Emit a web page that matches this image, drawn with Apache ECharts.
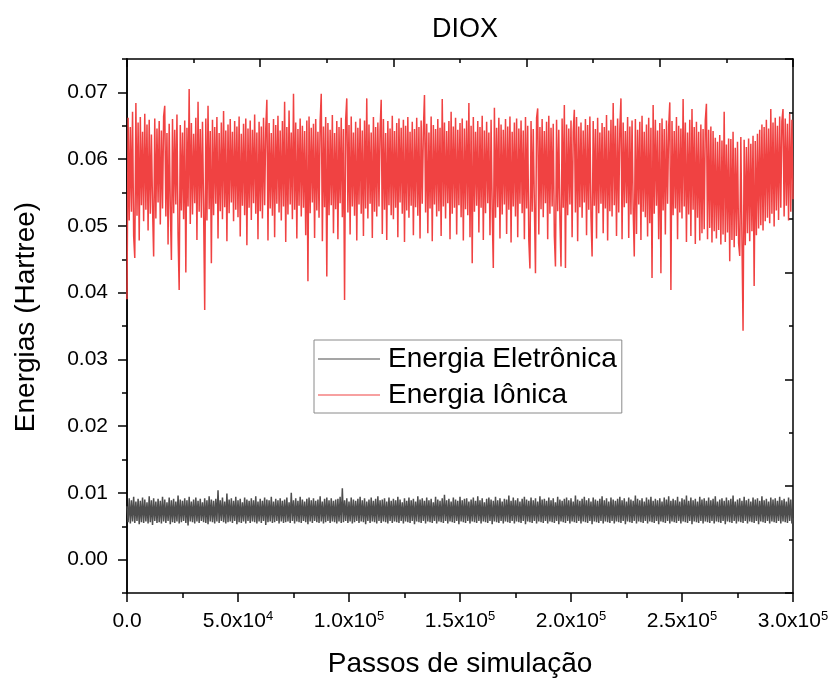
<!DOCTYPE html>
<html>
<head>
<meta charset="utf-8">
<script src="https://cdn.jsdelivr.net/npm/echarts@6/dist/echarts.min.js"></script>
<style>
  html, body { margin: 0; padding: 0; background: #fff; }
  #box1 { width: 834px; height: 679px; }
</style>
</head>
<body>
<div id="box1"></div>
<script>
// samples taken every STEP simulation steps
var STEP = 500;

var seriesNames = ['Energia Eletrônica', 'Energia Iônica'];

// Energia Eletrônica (Hartree)
var eletronica = [
  0.0080, 0.0056, 0.0092, 0.0054, 0.0089, 0.0057, 0.0094, 0.0055, 0.0087, 0.0058,
  0.0091, 0.0053, 0.0088, 0.0056, 0.0093, 0.0055, 0.0090, 0.0057, 0.0086, 0.0054,
  0.0095, 0.0056, 0.0089, 0.0052, 0.0092, 0.0058, 0.0087, 0.0055, 0.0091, 0.0056,
  0.0088, 0.0054, 0.0094, 0.0057, 0.0090, 0.0055, 0.0086, 0.0058, 0.0093, 0.0053,
  0.0089, 0.0056, 0.0091, 0.0055, 0.0087, 0.0057, 0.0096, 0.0054, 0.0090, 0.0056,
  0.0088, 0.0058, 0.0092, 0.0055, 0.0089, 0.0051, 0.0094, 0.0057, 0.0087, 0.0056,
  0.0090, 0.0054, 0.0093, 0.0057, 0.0088, 0.0055, 0.0091, 0.0058, 0.0086, 0.0056,
  0.0092, 0.0055, 0.0089, 0.0053, 0.0095, 0.0057, 0.0090, 0.0056, 0.0088, 0.0054,
  0.0091, 0.0057, 0.0104, 0.0055, 0.0089, 0.0058, 0.0093, 0.0056, 0.0087, 0.0054,
  0.0099, 0.0056, 0.0090, 0.0057, 0.0092, 0.0055, 0.0088, 0.0058, 0.0094, 0.0053,
  0.0089, 0.0056, 0.0091, 0.0055, 0.0086, 0.0057, 0.0093, 0.0054, 0.0090, 0.0058,
  0.0088, 0.0055, 0.0092, 0.0057, 0.0089, 0.0056, 0.0095, 0.0054, 0.0087, 0.0057,
  0.0091, 0.0055, 0.0088, 0.0058, 0.0093, 0.0052, 0.0090, 0.0056, 0.0089, 0.0057,
  0.0094, 0.0055, 0.0087, 0.0056, 0.0091, 0.0058, 0.0089, 0.0054, 0.0092, 0.0057,
  0.0088, 0.0055, 0.0090, 0.0056, 0.0093, 0.0057, 0.0086, 0.0055, 0.0100, 0.0058,
  0.0089, 0.0054, 0.0092, 0.0057, 0.0088, 0.0056, 0.0094, 0.0055, 0.0090, 0.0058,
  0.0087, 0.0056, 0.0091, 0.0053, 0.0093, 0.0057, 0.0089, 0.0055, 0.0092, 0.0058,
  0.0088, 0.0056, 0.0090, 0.0055, 0.0095, 0.0057, 0.0087, 0.0054, 0.0091, 0.0056,
  0.0093, 0.0058, 0.0089, 0.0055, 0.0092, 0.0057, 0.0088, 0.0056, 0.0090, 0.0054,
  0.0091, 0.0057, 0.0094, 0.0055, 0.0107, 0.0056, 0.0089, 0.0058, 0.0092, 0.0055,
  0.0087, 0.0057, 0.0093, 0.0054, 0.0090, 0.0056, 0.0088, 0.0058, 0.0091, 0.0055,
  0.0094, 0.0057, 0.0089, 0.0056, 0.0092, 0.0053, 0.0087, 0.0058, 0.0090, 0.0055,
  0.0093, 0.0057, 0.0088, 0.0056, 0.0091, 0.0054, 0.0095, 0.0058, 0.0089, 0.0055,
  0.0090, 0.0057, 0.0092, 0.0056, 0.0087, 0.0054, 0.0093, 0.0058, 0.0088, 0.0055,
  0.0091, 0.0057, 0.0089, 0.0056, 0.0094, 0.0055, 0.0090, 0.0058, 0.0086, 0.0054,
  0.0092, 0.0057, 0.0088, 0.0056, 0.0093, 0.0055, 0.0089, 0.0058, 0.0091, 0.0053,
  0.0087, 0.0057, 0.0095, 0.0056, 0.0090, 0.0055, 0.0092, 0.0058, 0.0088, 0.0054,
  0.0093, 0.0057, 0.0089, 0.0056, 0.0091, 0.0055, 0.0086, 0.0058, 0.0094, 0.0054,
  0.0090, 0.0057, 0.0088, 0.0056, 0.0092, 0.0055, 0.0097, 0.0058, 0.0089, 0.0054,
  0.0091, 0.0057, 0.0087, 0.0056, 0.0093, 0.0055, 0.0090, 0.0058, 0.0088, 0.0053,
  0.0094, 0.0057, 0.0089, 0.0056, 0.0091, 0.0055, 0.0092, 0.0058, 0.0087, 0.0054,
  0.0090, 0.0057, 0.0093, 0.0056, 0.0088, 0.0055, 0.0095, 0.0058, 0.0089, 0.0054,
  0.0092, 0.0057, 0.0086, 0.0056, 0.0091, 0.0055, 0.0093, 0.0058, 0.0090, 0.0053,
  0.0088, 0.0057, 0.0094, 0.0056, 0.0089, 0.0055, 0.0092, 0.0058, 0.0087, 0.0054,
  0.0091, 0.0057, 0.0090, 0.0056, 0.0096, 0.0055, 0.0088, 0.0058, 0.0093, 0.0054,
  0.0089, 0.0057, 0.0092, 0.0056, 0.0087, 0.0055, 0.0091, 0.0058, 0.0094, 0.0053,
  0.0090, 0.0057, 0.0088, 0.0056, 0.0093, 0.0055, 0.0089, 0.0058, 0.0092, 0.0054,
  0.0087, 0.0057, 0.0095, 0.0056, 0.0090, 0.0055, 0.0091, 0.0058, 0.0088, 0.0054,
  0.0093, 0.0057, 0.0089, 0.0056, 0.0092, 0.0055, 0.0086, 0.0058, 0.0094, 0.0053,
  0.0090, 0.0057, 0.0088, 0.0056, 0.0091, 0.0055, 0.0093, 0.0058, 0.0089, 0.0054,
  0.0092, 0.0057, 0.0087, 0.0056, 0.0096, 0.0055, 0.0090, 0.0058, 0.0088, 0.0054,
  0.0091, 0.0057, 0.0094, 0.0056, 0.0089, 0.0055, 0.0092, 0.0058, 0.0087, 0.0053,
  0.0093, 0.0057, 0.0090, 0.0056, 0.0088, 0.0055, 0.0091, 0.0058, 0.0095, 0.0054,
  0.0089, 0.0057, 0.0092, 0.0056, 0.0087, 0.0055, 0.0093, 0.0058, 0.0090, 0.0054,
  0.0088, 0.0057, 0.0091, 0.0056, 0.0094, 0.0055, 0.0089, 0.0058, 0.0092, 0.0053,
  0.0087, 0.0057, 0.0093, 0.0056, 0.0090, 0.0055, 0.0088, 0.0058, 0.0096, 0.0054,
  0.0091, 0.0057, 0.0089, 0.0056, 0.0092, 0.0055, 0.0087, 0.0058, 0.0093, 0.0054,
  0.0090, 0.0057, 0.0094, 0.0056, 0.0088, 0.0055, 0.0091, 0.0058, 0.0089, 0.0053,
  0.0092, 0.0057, 0.0087, 0.0056, 0.0093, 0.0055, 0.0090, 0.0058, 0.0095, 0.0054,
  0.0088, 0.0057, 0.0091, 0.0056, 0.0089, 0.0055, 0.0094, 0.0058, 0.0087, 0.0054,
  0.0092, 0.0057, 0.0090, 0.0056, 0.0096, 0.0055, 0.0088, 0.0058, 0.0093, 0.0053,
  0.0089, 0.0057, 0.0091, 0.0056, 0.0087, 0.0055, 0.0094, 0.0058, 0.0090, 0.0054,
  0.0092, 0.0057, 0.0088, 0.0056, 0.0093, 0.0055, 0.0089, 0.0058, 0.0091, 0.0054,
  0.0095, 0.0057, 0.0087, 0.0056, 0.0090, 0.0055, 0.0092, 0.0058, 0.0088, 0.0053,
  0.0093, 0.0057, 0.0089, 0.0056, 0.0091, 0.0055, 0.0096, 0.0058, 0.0087, 0.0054,
  0.0090, 0.0057, 0.0092, 0.0056, 0.0088, 0.0055, 0.0094, 0.0058, 0.0089, 0.0054,
  0.0091, 0.0057, 0.0087, 0.0056, 0.0093, 0.0055, 0.0090, 0.0058, 0.0092, 0.0053,
  0.0088, 0.0057, 0.0095, 0.0056, 0.0089, 0.0055, 0.0091, 0.0058, 0.0087, 0.0054,
  0.0093, 0.0057, 0.0090, 0.0056, 0.0092, 0.0055, 0.0088, 0.0058, 0.0094, 0.0054,
  0.0089, 0.0057, 0.0091, 0.0056, 0.0087, 0.0055, 0.0093, 0.0058, 0.0090, 0.0054,
  0.0062
];

// Energia Iônica (Hartree)
var ionica = [
  0.0390, 0.0662, 0.0508, 0.0648, 0.0521, 0.0671, 0.0485, 0.0452, 0.0684, 0.0515,
  0.0655, 0.0478, 0.0663, 0.0531, 0.0641, 0.0507, 0.0668, 0.0524, 0.0652, 0.0493,
  0.0659, 0.0518, 0.0637, 0.0529, 0.0454, 0.0661, 0.0511, 0.0646, 0.0535, 0.0657,
  0.0502, 0.0643, 0.0526, 0.0664, 0.0680, 0.0514, 0.0639, 0.0472, 0.0653, 0.0528,
  0.0449, 0.0660, 0.0519, 0.0644, 0.0532, 0.0667, 0.0486, 0.0404, 0.0651, 0.0523,
  0.0640, 0.0510, 0.0658, 0.0430, 0.0647, 0.0529, 0.0705, 0.0503, 0.0654, 0.0517,
  0.0638, 0.0534, 0.0662, 0.0479, 0.0686, 0.0521, 0.0645, 0.0512, 0.0656, 0.0527,
  0.0374, 0.0661, 0.0508, 0.0680, 0.0525, 0.0642, 0.0444, 0.0659, 0.0516, 0.0648,
  0.0533, 0.0663, 0.0481, 0.0639, 0.0522, 0.0655, 0.0510, 0.0672, 0.0528, 0.0643,
  0.0477, 0.0652, 0.0519, 0.0660, 0.0535, 0.0641, 0.0507, 0.0657, 0.0524, 0.0649,
  0.0513, 0.0664, 0.0484, 0.0638, 0.0530, 0.0653, 0.0516, 0.0661, 0.0471, 0.0646,
  0.0527, 0.0658, 0.0509, 0.0644, 0.0534, 0.0667, 0.0518, 0.0640, 0.0480, 0.0656,
  0.0522, 0.0649, 0.0511, 0.0662, 0.0531, 0.0645, 0.0689, 0.0478, 0.0654, 0.0526,
  0.0639, 0.0515, 0.0660, 0.0483, 0.0651, 0.0533, 0.0665, 0.0520, 0.0643, 0.0508,
  0.0657, 0.0529, 0.0686, 0.0476, 0.0648, 0.0517, 0.0673, 0.0532, 0.0640, 0.0510,
  0.0698, 0.0524, 0.0655, 0.0481, 0.0645, 0.0530, 0.0661, 0.0514, 0.0650, 0.0527,
  0.0642, 0.0486, 0.0658, 0.0417, 0.0664, 0.0519, 0.0647, 0.0535, 0.0653, 0.0482,
  0.0660, 0.0523, 0.0641, 0.0512, 0.0656, 0.0698, 0.0477, 0.0649, 0.0528, 0.0663,
  0.0424, 0.0654, 0.0516, 0.0644, 0.0531, 0.0666, 0.0489, 0.0639, 0.0525, 0.0657,
  0.0480, 0.0648, 0.0534, 0.0662, 0.0513, 0.0645, 0.0389, 0.0659, 0.0691, 0.0520,
  0.0651, 0.0487, 0.0664, 0.0529, 0.0640, 0.0515, 0.0656, 0.0478, 0.0647, 0.0532,
  0.0661, 0.0518, 0.0643, 0.0485, 0.0658, 0.0526, 0.0691, 0.0511, 0.0652, 0.0533,
  0.0640, 0.0482, 0.0663, 0.0521, 0.0648, 0.0514, 0.0655, 0.0529, 0.0644, 0.0689,
  0.0488, 0.0660, 0.0524, 0.0639, 0.0479, 0.0657, 0.0531, 0.0646, 0.0516, 0.0665,
  0.0510, 0.0642, 0.0527, 0.0654, 0.0483, 0.0661, 0.0535, 0.0647, 0.0518, 0.0659,
  0.0476, 0.0650, 0.0523, 0.0663, 0.0512, 0.0641, 0.0530, 0.0656, 0.0486, 0.0645,
  0.0528, 0.0662, 0.0515, 0.0648, 0.0481, 0.0658, 0.0533, 0.0643, 0.0696, 0.0520,
  0.0653, 0.0489, 0.0640, 0.0526, 0.0664, 0.0477, 0.0651, 0.0532, 0.0645, 0.0514,
  0.0660, 0.0522, 0.0647, 0.0485, 0.0690, 0.0529, 0.0655, 0.0511, 0.0642, 0.0534,
  0.0657, 0.0480, 0.0671, 0.0518, 0.0649, 0.0527, 0.0662, 0.0487, 0.0644, 0.0531,
  0.0654, 0.0513, 0.0661, 0.0478, 0.0646, 0.0525, 0.0658, 0.0516, 0.0684, 0.0483,
  0.0650, 0.0444, 0.0663, 0.0521, 0.0641, 0.0530, 0.0657, 0.0490, 0.0648, 0.0527,
  0.0665, 0.0479, 0.0643, 0.0519, 0.0656, 0.0534, 0.0640, 0.0486, 0.0659, 0.0523,
  0.0437, 0.0677, 0.0512, 0.0647, 0.0528, 0.0662, 0.0481, 0.0652, 0.0517, 0.0644,
  0.0532, 0.0660, 0.0488, 0.0649, 0.0524, 0.0664, 0.0475, 0.0641, 0.0529, 0.0655,
  0.0514, 0.0661, 0.0483, 0.0646, 0.0533, 0.0658, 0.0519, 0.0643, 0.0480, 0.0663,
  0.0526, 0.0650, 0.0478, 0.0436, 0.0657, 0.0521, 0.0645, 0.0531, 0.0429, 0.0662,
  0.0676, 0.0487, 0.0648, 0.0525, 0.0660, 0.0513, 0.0642, 0.0534, 0.0656, 0.0480,
  0.0665, 0.0518, 0.0647, 0.0529, 0.0653, 0.0485, 0.0439, 0.0659, 0.0522, 0.0644,
  0.0511, 0.0439, 0.0661, 0.0527, 0.0681, 0.0437, 0.0652, 0.0516, 0.0646, 0.0532,
  0.0658, 0.0483, 0.0641, 0.0674, 0.0520, 0.0663, 0.0477, 0.0649, 0.0528, 0.0655,
  0.0512, 0.0643, 0.0535, 0.0660, 0.0486, 0.0651, 0.0524, 0.0664, 0.0515, 0.0454,
  0.0657, 0.0530, 0.0645, 0.0481, 0.0662, 0.0519, 0.0640, 0.0533, 0.0654, 0.0489,
  0.0648, 0.0526, 0.0666, 0.0478, 0.0643, 0.0522, 0.0659, 0.0514, 0.0684, 0.0531,
  0.0650, 0.0485, 0.0661, 0.0520, 0.0646, 0.0691, 0.0480, 0.0655, 0.0528, 0.0642,
  0.0534, 0.0663, 0.0482, 0.0649, 0.0517, 0.0658, 0.0525, 0.0454, 0.0660, 0.0488,
  0.0644, 0.0532, 0.0656, 0.0479, 0.0665, 0.0521, 0.0641, 0.0513, 0.0652, 0.0484,
  0.0662, 0.0504, 0.0647, 0.0422, 0.0681, 0.0518, 0.0659, 0.0530, 0.0643, 0.0480,
  0.0654, 0.0429, 0.0661, 0.0523, 0.0645, 0.0487, 0.0658, 0.0533, 0.0649, 0.0685,
  0.0404, 0.0657, 0.0516, 0.0642, 0.0526, 0.0663, 0.0480, 0.0650, 0.0520, 0.0646,
  0.0511, 0.0690, 0.0529, 0.0655, 0.0476, 0.0640, 0.0517, 0.0659, 0.0485, 0.0675,
  0.0524, 0.0648, 0.0473, 0.0656, 0.0512, 0.0641, 0.0478, 0.0652, 0.0489, 0.0645,
  0.0495, 0.0658, 0.0683, 0.0480, 0.0644, 0.0497, 0.0649, 0.0475, 0.0642, 0.0492,
  0.0632, 0.0481, 0.0626, 0.0494, 0.0636, 0.0472, 0.0628, 0.0487, 0.0671, 0.0476,
  0.0622, 0.0490, 0.0631, 0.0447, 0.0630, 0.0479, 0.0641, 0.0468, 0.0617, 0.0485,
  0.0626, 0.0474, 0.0455, 0.0633, 0.0482, 0.0343, 0.0629, 0.0471, 0.0618, 0.0489,
  0.0631, 0.0477, 0.0623, 0.0492, 0.0635, 0.0410, 0.0627, 0.0486, 0.0638, 0.0496,
  0.0644, 0.0501, 0.0652, 0.0493, 0.0648, 0.0507, 0.0659, 0.0512, 0.0646, 0.0504,
  0.0675, 0.0518, 0.0655, 0.0499, 0.0662, 0.0523, 0.0650, 0.0509, 0.0664, 0.0527,
  0.0657, 0.0675, 0.0514, 0.0661, 0.0530, 0.0653, 0.0508, 0.0668, 0.0521, 0.0659,
  0.0540
];

// tick labels of the energy axis
var yTicks = [0.00, 0.01, 0.02, 0.03, 0.04, 0.05, 0.06, 0.07];

var dom = document.getElementById("box1");
var myChart = echarts.init(dom);
var option = null;

var font = 'Liberation Sans, Arial, sans-serif';
var black = { color: '#000', width: 1.5 };

function toPairs(arr) {
  return arr.map(function (v, i) { return [i * STEP, v]; });
}

// 5.0x10^4 style labels
function sciLabel(v) {
  if (v === 0) return '{a|0.0}';
  var e = Math.floor(Math.log10(v));
  var m = (v / Math.pow(10, e)).toFixed(1);
  return '{a|' + m + 'x10}{s|' + e + '}';
}

option = {
  animation: false,
  backgroundColor: '#fff',
  textStyle: { fontFamily: font },
  title: {
    text: 'DIOX',
    left: 460,
    textAlign: 'center',
    top: 11,
    textStyle: { fontSize: 27, fontWeight: 'normal', color: '#000', fontFamily: font }
  },
  legend: {
    data: seriesNames,
    orient: 'vertical',
    left: 314,
    top: 340,
    padding: [5, 5, 4, 4],
    itemGap: 8,
    itemWidth: 62,
    itemHeight: 1,
    icon: 'rect',
    borderColor: '#8a8a8a',
    borderWidth: 1,
    selectedMode: false,
    textStyle: { fontSize: 28, color: '#000', fontFamily: font, padding: [0, 0, 0, 3] }
  },
  grid: {
    left: 127,
    right: 41,
    top: 59,
    bottom: 86,
    containLabel: false,
    outerBoundsMode: 'none'
  },
  xAxis: [
    {
      type: 'value',
      position: 'bottom',
      min: 0,
      max: 300000,
      interval: 50000,
      axisLine: { show: true, onZero: false, lineStyle: black },
      axisTick: { show: true, length: 9, lineStyle: black },
      minorTick: { show: true, splitNumber: 2, length: 5, lineStyle: black },
      splitLine: { show: false },
      minorSplitLine: { show: false },
      axisLabel: {
        margin: 17,
        formatter: sciLabel,
        rich: {
          a: { fontSize: 21, lineHeight: 23, color: '#000', fontFamily: font },
          s: { fontSize: 13, lineHeight: 13, verticalAlign: 'top', color: '#000', fontFamily: font }
        }
      },
      name: 'Passos de simulação',
      nameLocation: 'middle',
      nameGap: 57,
      nameTextStyle: { fontSize: 28, color: '#000', fontFamily: font }
    },
    {
      type: 'value',
      position: 'top',
      min: 0,
      max: 10,
      interval: 2,
      axisLine: { show: true, onZero: false, lineStyle: black },
      axisTick: { show: true, inside: true, length: 8, lineStyle: black },
      minorTick: { show: true, splitNumber: 2, length: 4, lineStyle: black },
      axisLabel: { show: false },
      splitLine: { show: false }
    }
  ],
  yAxis: [
    {
      // minor ticks of the energy axis
      type: 'value',
      position: 'left',
      min: -0.005,
      max: 0.075,
      interval: 0.005,
      axisLine: { show: true, onZero: false, lineStyle: black },
      axisTick: { show: true, length: 5, lineStyle: black },
      axisLabel: { show: false },
      splitLine: { show: false }
    },
    {
      type: 'value',
      position: 'left',
      min: -0.005,
      max: 0.075,
      axisLine: { show: true, onZero: false, lineStyle: black },
      axisTick: { show: true, length: 9, lineStyle: black, customValues: yTicks },
      axisLabel: {
        customValues: yTicks,
        margin: 19,
        fontSize: 21,
        color: '#000',
        fontFamily: font,
        formatter: function (v) { return v.toFixed(2); }
      },
      splitLine: { show: false },
      name: 'Energias (Hartree)',
      nameLocation: 'middle',
      nameGap: 87,
      nameTextStyle: { fontSize: 28, color: '#000', fontFamily: font, padding: [0, 0, 0, 18] }
    },
    {
      type: 'value',
      position: 'right',
      min: 0,
      max: 10,
      interval: 2,
      axisLine: { show: true, onZero: false, lineStyle: black },
      axisTick: { show: true, inside: true, length: 8, lineStyle: black },
      minorTick: { show: true, splitNumber: 2, length: 4, lineStyle: black },
      axisLabel: { show: false },
      splitLine: { show: false }
    }
  ],
  series: [
    {
      name: seriesNames[0],
      type: 'line',
      xAxisIndex: 0,
      yAxisIndex: 1,
      showSymbol: false,
      symbol: 'none',
      color: '#4d4d4d',
      lineStyle: { width: 1.5, color: '#4d4d4d' },
      data: toPairs(eletronica)
    },
    {
      name: seriesNames[1],
      type: 'line',
      xAxisIndex: 0,
      yAxisIndex: 1,
      showSymbol: false,
      symbol: 'none',
      color: '#f04242',
      lineStyle: { width: 1.5, color: '#f04242' },
      data: toPairs(ionica)
    }
  ]
};

if (option && typeof option === 'object') {
  myChart.setOption(option);
}
</script>
</body>
</html>
